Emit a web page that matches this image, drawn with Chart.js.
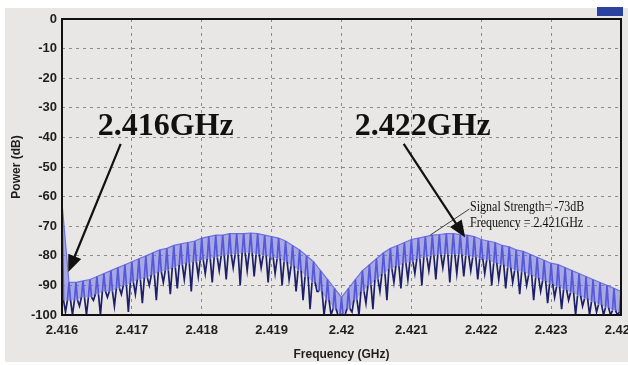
<!DOCTYPE html>
<html>
<head>
<meta charset="utf-8">
<script src="https://cdn.jsdelivr.net/npm/chart.js@4.4.1/dist/chart.umd.min.js"></script>
<style>
  body { margin: 0; background: #ffffff; }
  #panel { position: absolute; left: 5px; top: 8px; width: 623px; height: 354px; background: #e9e7e6; }
  #wrap { position: absolute; left: 0; top: 0; width: 628px; height: 365px; overflow: hidden; }
  #tab { position: absolute; left: 597px; top: 7px; width: 26px; height: 9px; background: #2c42a0; }
</style>
</head>
<body>
<div id="panel"></div>
<div id="tab"></div>
<div id="wrap"><canvas id="spectrumChart" width="650" height="365"></canvas></div>
<script>
// Spectrum data (one tooth every 0.0001 GHz)
const startFreq = 2.416
const toothStep = 0.0001

// top of each tooth (dB)
const toothPeaks = [
  -62, -89, -89, -88.5, -88, -87, -86, -85, -84, -83,
  -82, -81, -80, -79, -78, -77.5, -76.5, -76, -75.5, -75,
  -74, -73.5, -73, -73, -72.5, -72.5, -72.5, -72.3, -72.5, -73,
  -73.5, -74, -75, -76.5, -78, -80, -82, -85, -88, -91,
  -94, -91, -88, -85, -83, -81, -79, -77.5, -76.5, -75.5,
  -74.5, -74, -73.5, -73, -72.8, -72.5, -72.5, -72.8, -73, -73.5,
  -74.5, -75, -75.5, -76.5, -77, -78, -78.5, -79.5, -80.5, -81.5,
  -82.5, -83, -84, -85, -86, -87, -88, -89, -90, -91,
  -92,
]

// lower edge of the light blue part of each tooth (dB)
const bandFloor = [
  -95, -95, -95, -94, -94, -93, -92, -92, -91, -90,
  -89, -88, -87.5, -86.5, -85.5, -85, -84, -83, -82.5, -82,
  -81.5, -81, -80.5, -80, -79.5, -79.5, -79, -79, -79.5, -80,
  -80.5, -81, -82, -83.5, -85, -87, -89, -92, -95, -98,
  -100, -98, -95, -92, -90, -88, -86, -84.5, -83.5, -82.5,
  -82, -81, -80.5, -80, -79.5, -79.5, -79.5, -79.5, -80, -80.5,
  -81, -81.5, -82.5, -83, -84, -85, -85.5, -86.5, -87.5, -88.5,
  -89.5, -90.5, -91.5, -92.5, -93.5, -94.5, -95.5, -96.5, -97.5, -98.5,
  -99,
]

// deep dip between each pair of teeth (dB)
const toothDips = [
  -99, -100, -97, -100, -95, -100, -94, -97, -93, -99,
  -93, -96, -90, -95, -89, -93, -91, -88, -92, -87,
  -86, -89, -85, -88, -84, -90, -85, -87, -84, -89,
  -86, -90, -88, -92, -95, -98, -92, -100, -100, -100,
  -100, -99, -100, -96, -98, -92, -95, -89, -91, -88,
  -86, -90, -85, -88, -84, -89, -86, -87, -85, -88,
  -86, -90, -88, -91, -89, -93, -90, -95, -92, -96,
  -94, -98, -95, -100, -97, -100, -99, -100, -100, -100,
]

const xTickLabels = ["2.416", "2.417", "2.418", "2.419", "2.42", "2.421", "2.422", "2.423", "2.424"]
const yTickLabels = ["-100", "-90", "-80", "-70", "-60", "-50", "-40", "-30", "-20", "-10", "0"]

// Build the trace: peak -> floor -> dip -> floor of next tooth -> next peak
const toothFreq = (i) => startFreq + i * toothStep
const tracePoints = []
toothPeaks.forEach((peak, i) => {
  const f = toothFreq(i)
  tracePoints.push({ x: f, y: peak })
  if (i < toothDips.length) {
    tracePoints.push({ x: f + toothStep * 0.22, y: bandFloor[i] })
    tracePoints.push({ x: f + toothStep * 0.5, y: toothDips[i] })
    tracePoints.push({ x: f + toothStep * 0.78, y: bandFloor[i + 1] })
  }
})
const envelopePoints = toothPeaks.map((peak, i) => ({ x: toothFreq(i), y: peak }))
const floorPoints = bandFloor.map((v, i) => ({ x: toothFreq(i), y: v }))

// Annotations (in data units)
const callouts = [
  { text: "2.416GHz", x: 2.41651, y: -39.2, from: [2.41684, -42.2], to: [2.41609, -85.5] },
  { text: "2.422GHz", x: 2.42019, y: -39.2, from: [2.42089, -42.2], to: [2.42177, -73.8] },
]
const tipLabel = {
  lines: ["Signal Strength= -73dB", "Frequency = 2.421GHz"],
  x: 2.42184,
  y: [-64.9, -70.3],
  from: [2.42183, -64.2],
  to: [2.42127, -73],
}

const framePlugin = {
  id: "frame",
  afterDraw(chart) {
    const { ctx, chartArea: a, scales } = chart
    const px = (v) => scales.x.getPixelForValue(v)
    const py = (v) => scales.y.getPixelForValue(v)

    ctx.save()
    ctx.strokeStyle = "#111111"
    ctx.lineWidth = 2
    ctx.strokeRect(a.left, a.top, a.right - a.left, a.bottom - a.top)

    // Big callouts with arrows
    ctx.fillStyle = "#111111"
    ctx.font = "bold 32px 'Liberation Serif', 'Times New Roman', serif"
    ctx.textBaseline = "alphabetic"
    callouts.forEach((c) => {
      ctx.fillText(c.text, px(c.x), py(c.y))
      const x1 = px(c.from[0]), y1 = py(c.from[1])
      const x2 = px(c.to[0]), y2 = py(c.to[1])
      const ang = Math.atan2(y2 - y1, x2 - x1)
      const head = 17
      ctx.lineWidth = 2.2
      ctx.beginPath()
      ctx.moveTo(x1, y1)
      ctx.lineTo(x2 - Math.cos(ang) * head * 0.8, y2 - Math.sin(ang) * head * 0.8)
      ctx.stroke()
      ctx.beginPath()
      ctx.moveTo(x2, y2)
      ctx.lineTo(x2 - head * Math.cos(ang) + 7 * Math.sin(ang), y2 - head * Math.sin(ang) - 7 * Math.cos(ang))
      ctx.lineTo(x2 - head * Math.cos(ang) - 7 * Math.sin(ang), y2 - head * Math.sin(ang) + 7 * Math.cos(ang))
      ctx.closePath()
      ctx.fill()
    })

    // Data tip label
    ctx.lineWidth = 0.8
    ctx.beginPath()
    ctx.moveTo(px(tipLabel.from[0]), py(tipLabel.from[1]))
    ctx.lineTo(px(tipLabel.to[0]), py(tipLabel.to[1]))
    ctx.stroke()
    ctx.font = "15px 'Liberation Serif', 'Times New Roman', serif"
    ctx.save()
    ctx.translate(px(tipLabel.x), 0)
    ctx.scale(0.8, 1)
    tipLabel.lines.forEach((line, i) => ctx.fillText(line, 0, py(tipLabel.y[i])))
    ctx.restore()
    ctx.restore()
  },
}

// Chart Configuration
const ctx = document.getElementById("spectrumChart").getContext("2d")
const tickFont = { family: "'Liberation Sans', Arial, sans-serif", size: 13, weight: "bold" }
const titleFont = { family: "'Liberation Sans', Arial, sans-serif", size: 12, weight: "bold" }

// light blue on the tooth tops, dark navy down into the dips
const segmentColor = (c) => {
  const k = c.p0DataIndex % 4
  return k === 1 || k === 2 ? "#1d1f68" : "#5558d8"
}

const spectrumChart = new Chart(ctx, {
  type: "line",
  data: {
    datasets: [
      {
        label: "Trace",
        data: tracePoints,
        borderColor: "#5558d8",
        borderWidth: 1.7,
        pointRadius: 0,
        tension: 0,
        segment: { borderColor: segmentColor },
      },
      {
        label: "Band",
        data: envelopePoints,
        borderColor: "rgba(100, 104, 228, 0.9)",
        backgroundColor: "rgba(104, 108, 222, 0.5)",
        borderWidth: 1.2,
        pointRadius: 0,
        tension: 0,
        fill: 2,
      },
      {
        label: "Floor",
        data: floorPoints,
        borderWidth: 0,
        pointRadius: 0,
        tension: 0,
      },
    ],
  },
  options: {
    responsive: false,
    animation: false,
    layout: {
      padding: { left: 5, top: 19, right: 29, bottom: 0 },
    },
    plugins: {
      legend: { display: false },
      tooltip: { enabled: false },
    },
    scales: {
      x: {
        type: "linear",
        min: 2.416,
        max: 2.424,
        afterFit: (scale) => { scale.height = 50 },
        grid: { color: "rgba(110, 110, 110, 0.75)", drawTicks: false },
        border: { display: false, dash: [3, 4] },
        ticks: {
          stepSize: 0.001,
          autoSkip: false,
          maxRotation: 0,
          padding: 8,
          color: "#1e1e1e",
          font: tickFont,
          callback: (value, index) => xTickLabels[index],
        },
        title: {
          display: true,
          text: "Frequency (GHz)",
          color: "#1e1e1e",
          padding: { top: 0, bottom: 3 },
          font: titleFont,
        },
      },
      y: {
        min: -100,
        max: 0,
        afterFit: (scale) => { scale.width = 57 },
        grid: { color: "rgba(110, 110, 110, 0.75)", drawTicks: false },
        border: { display: false, dash: [3, 4] },
        ticks: {
          stepSize: 10,
          padding: 5,
          color: "#1e1e1e",
          font: tickFont,
          callback: (value, index) => yTickLabels[index],
        },
        title: {
          display: true,
          text: "Power (dB)",
          color: "#1e1e1e",
          padding: { top: 4, bottom: 0 },
          font: titleFont,
        },
      },
    },
  },
  plugins: [framePlugin],
})
</script>
</body>
</html>
